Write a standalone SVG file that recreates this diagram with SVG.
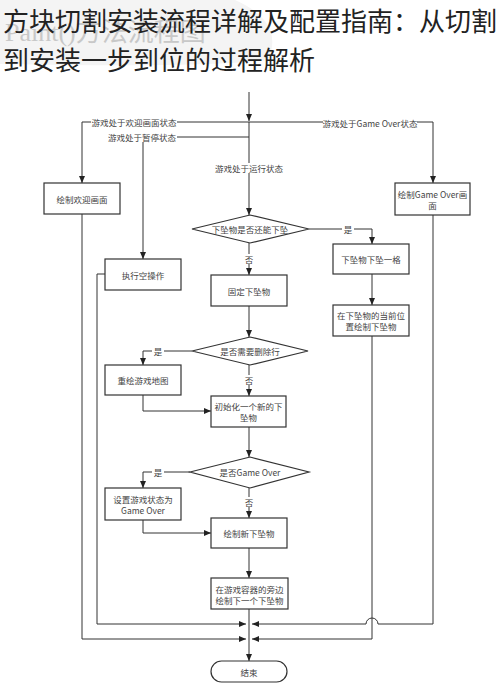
<svg xmlns="http://www.w3.org/2000/svg" width="500" height="683" viewBox="0 0 500 683">
<style>
.title{font-family:"Noto Sans CJK SC","Noto Sans",sans-serif;font-size:26px;fill:#222}
.wm{font-family:"Liberation Serif","Noto Sans CJK SC",serif;font-size:26px;fill:#c8c8c8}
.box{fill:#fff;stroke:#333;stroke-width:1.2}
.t{font-family:"Noto Sans CJK SC","Noto Sans",sans-serif;font-size:8.5px;fill:#444;text-anchor:middle;dominant-baseline:central}
.ln{fill:none;stroke:#333;stroke-width:1}
.lb{fill:#fff}
</style>
<defs>
<marker id="ah" markerWidth="7" markerHeight="6" refX="7" refY="3" orient="auto" markerUnits="userSpaceOnUse">
<path d="M0,0 L7,3 L0,6 Z" fill="#222"/>
</marker>
</defs>
<rect width="500" height="683" fill="#fff"/>
<path d="M0,0 H235 Q285,22 268,60 Q200,68 0,64 Z" fill="#f4f4f4"/>
<text class="wm" x="5" y="41">Paint()方法流程图</text>
<text class="title" x="3" y="31">方块切割安装流程详解及配置指南：从切割</text>
<text class="title" x="3" y="70">到安装一步到位的过程解析</text>

<g id="connectors">
<path class="ln" d="M249,92 V121" marker-end="url(#ah)"/>
<path class="ln" d="M249,122 V215" marker-end="url(#ah)"/>
<path class="ln" d="M249,122 H82 V183" marker-end="url(#ah)"/>
<path class="ln" d="M249,137 H143 V259" marker-end="url(#ah)"/>
<path class="ln" d="M249,122 H433 V183" marker-end="url(#ah)"/>
<path class="ln" d="M309,229 H372 V244" marker-end="url(#ah)"/>
<path class="ln" d="M372,274 V305" marker-end="url(#ah)"/>
<path class="ln" d="M372,336 V639 H252" marker-end="url(#ah)"/>
<path class="ln" d="M433,215 V624 H378 A4,4 0 0 0 366,624 H252" marker-end="url(#ah)"/>
<path class="ln" d="M82,214 V639 H246" marker-end="url(#ah)"/>
<path class="ln" d="M105,274 H97 V624 H246" marker-end="url(#ah)"/>
<path class="ln" d="M249,243 V275" marker-end="url(#ah)"/>
<path class="ln" d="M249,306 V337" marker-end="url(#ah)"/>
<path class="ln" d="M192,351 H143 V365" marker-end="url(#ah)"/>
<path class="ln" d="M143,395 V411 H211" marker-end="url(#ah)"/>
<path class="ln" d="M249,365 V396" marker-end="url(#ah)"/>
<path class="ln" d="M249,427 V457" marker-end="url(#ah)"/>
<path class="ln" d="M190,472 H143 V488" marker-end="url(#ah)"/>
<path class="ln" d="M143,520 V533 H211" marker-end="url(#ah)"/>
<path class="ln" d="M249,488 V518" marker-end="url(#ah)"/>
<path class="ln" d="M249,548 V578" marker-end="url(#ah)"/>
<path class="ln" d="M249,609 V661" marker-end="url(#ah)"/>
<g id="labels">
<rect class="lb" x="91" y="117" width="86" height="10"/><text class="t" x="134" y="122">游戏处于欢迎画面状态</text>
<rect class="lb" x="107" y="132" width="70" height="10"/><text class="t" x="142" y="137">游戏处于暂停状态</text>
<rect class="lb" x="214" y="163" width="70" height="10"/><text class="t" x="249" y="168">游戏处于运行状态</text>
<rect class="lb" x="323" y="118" width="94" height="10"/><text class="t" x="370" y="123">游戏处于Game Over状态</text>
<rect class="lb" x="342" y="224" width="12" height="10"/><text class="t" x="348" y="229">是</text>
<rect class="lb" x="244" y="254" width="10" height="10"/><text class="t" x="249" y="259">否</text>
<rect class="lb" x="152" y="346" width="12" height="10"/><text class="t" x="158" y="351">是</text>
<rect class="lb" x="244" y="375" width="10" height="10"/><text class="t" x="249" y="380">否</text>
<rect class="lb" x="152" y="467" width="12" height="10"/><text class="t" x="158" y="472">是</text>
<rect class="lb" x="244" y="497" width="10" height="10"/><text class="t" x="249" y="502">否</text>
</g>
</g>

<g id="draw-welcome"><rect class="box" x="44" y="183" width="76" height="31"/><text class="t" x="82" y="198.5">绘制欢迎画面</text></g>
<g id="noop"><rect class="box" x="105" y="259" width="76" height="31"/><text class="t" x="143" y="274.5">执行空操作</text></g>
<g id="draw-gameover"><rect class="box" x="395" y="183" width="75" height="32"/><text class="t" x="432.5" y="194">绘制Game Over画</text><text class="t" x="432.5" y="205">面</text></g>
<g id="can-fall"><path class="box" d="M192,229 L250,215 L309,229 L250,243 Z"/><text class="t" x="250" y="229">下坠物是否还能下坠</text></g>
<g id="fall-one"><rect class="box" x="333" y="244" width="76" height="30"/><text class="t" x="371" y="259">下坠物下坠一格</text></g>
<g id="draw-current"><rect class="box" x="333" y="305" width="76" height="31"/><text class="t" x="371" y="315">在下坠物的当前位</text><text class="t" x="371" y="326">置绘制下坠物</text></g>
<g id="fix"><rect class="box" x="211" y="275" width="76" height="31"/><text class="t" x="249" y="290.5">固定下坠物</text></g>
<g id="need-delete"><path class="box" d="M192,351 L250,337 L308,351 L250,365 Z"/><text class="t" x="250" y="351">是否需要删除行</text></g>
<g id="redraw-map"><rect class="box" x="105" y="365" width="76" height="30"/><text class="t" x="143" y="380">重绘游戏地图</text></g>
<g id="init-new"><rect class="box" x="211" y="396" width="75" height="31"/><text class="t" x="248.5" y="406">初始化一个新的下</text><text class="t" x="248.5" y="417">坠物</text></g>
<g id="is-gameover"><path class="box" d="M190,472 L250,457 L309,472 L250,488 Z"/><text class="t" x="250" y="472">是否Game Over</text></g>
<g id="set-gameover"><rect class="box" x="105" y="488" width="76" height="32"/><text class="t" x="143" y="498.5">设置游戏状态为</text><text class="t" x="143" y="509.5">Game Over</text></g>
<g id="draw-new"><rect class="box" x="211" y="518" width="76" height="30"/><text class="t" x="249" y="533">绘制新下坠物</text></g>
<g id="draw-next"><rect class="box" x="211" y="578" width="77" height="31"/><text class="t" x="249.5" y="588.5">在游戏容器的旁边</text><text class="t" x="249.5" y="599.5">绘制下一个下坠物</text></g>
<g id="end"><rect class="box" x="211" y="661" width="76" height="21" rx="10.5" ry="10.5"/><text class="t" x="249" y="671.5">结束</text></g>
</svg>
